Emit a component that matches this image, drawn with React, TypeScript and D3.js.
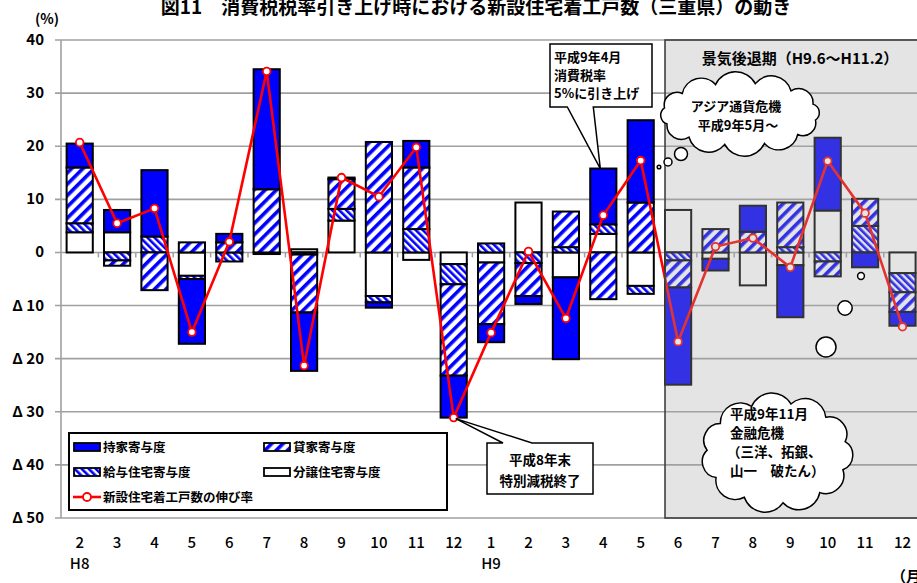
import React from "react";
import * as d3 from "d3";

// months (H8.2 - H9.12)
const months = ["2", "3", "4", "5", "6", "7", "8", "9", "10", "11", "12", "1", "2", "3", "4", "5", "6", "7", "8", "9", "10", "11", "12"];
const eraLabels = [
  { index: 0, label: "H8" },
  { index: 11, label: "H9" },
];

// contributions (%)
const ownedHouse = [4.5, 4.2, 12.5, -12.2, 1.6, 22.6, -11.0, 0.3, -1.0, 5.0, -7.9, -3.4, -1.5, -15.4, 10.5, 15.5, -18.3, -2.2, 4.9, -9.8, 13.7, -2.8, -2.6];
const rentalHouse = [10.5, -1.0, -7.1, 1.9, 1.9, 11.9, -10.9, 5.6, 20.8, 11.6, -17.2, -11.6, -6.2, 6.7, -8.8, 9.4, -5.1, 4.4, 3.9, 8.4, -2.8, 5.1, -3.7];
const issuedHouse = [1.7, -1.5, 3.0, -0.6, -1.7, 0, -0.4, 2.2, -1.2, 4.4, -3.8, 1.7, -2.0, 1.0, 1.8, -1.5, -1.5, 0, 0, 1.0, -1.7, 5.0, -3.6];
const forSaleHouse = [3.8, 3.8, 0, -4.4, 0, -0.3, 0.6, 6.0, -8.2, -1.4, -2.2, -1.9, 9.4, -4.7, 3.5, -6.3, 8.0, -1.2, -6.2, -2.4, 7.9, 0, -3.9];
// 新設住宅着工戸数の伸び率
const startsGrowth = [20.7, 5.5, 8.3, -15.0, 2.0, 34.1, -21.3, 14.1, 10.5, 19.8, -31.1, -15.1, 0.2, -12.4, 7.0, 17.3, -16.8, 1.1, 2.7, -2.8, 17.2, 7.4, -14.0];

const yTicks = [40, 30, 20, 10, 0, -10, -20, -30, -40, -50];

const seriesKeys = ["forSale", "issued", "rental", "owned"];
const seriesFill = {
  owned: "#0000ff",
  rental: "url(#rentPat)",
  issued: "url(#issuePat)",
  forSale: "#ffffff",
};

const W = 917;
const H = 583;
const FONT = "'Noto Sans CJK JP', sans-serif";

// recession period starts at H9.6 (index 16)
const recessionStart = 16;

function cloudPath(cx, cy, rx, ry, n) {
  const pts = d3.range(n).map((i) => {
    const a = (2 * Math.PI * i) / n - Math.PI / 2 + 0.2;
    return [cx + rx * Math.cos(a), cy + ry * Math.sin(a)];
  });
  let p = `M${pts[0][0]},${pts[0][1]}`;
  pts.forEach((pt, i) => {
    const next = pts[(i + 1) % n];
    const chord = Math.hypot(next[0] - pt[0], next[1] - pt[1]);
    const r = chord * 0.56;
    p += ` A${r},${r} 0 0 1 ${next[0]},${next[1]}`;
  });
  return p + "Z";
}

export default function App() {
  const rows = months.map((m, i) => ({
    idx: String(i),
    owned: ownedHouse[i],
    rental: rentalHouse[i],
    issued: issuedHouse[i],
    forSale: forSaleHouse[i],
  }));

  const layers = d3.stack().keys(seriesKeys).offset(d3.stackOffsetDiverging)(rows);

  const x = d3
    .scaleBand()
    .domain(months.map((m, i) => String(i)))
    .range([61, 61 + 37.4 * months.length])
    .paddingInner(0.3)
    .paddingOuter(0.15);
  const y = d3.scaleLinear().domain([-50, 40]).range([518, 40]);

  const cx = (i) => x(String(i)) + x.bandwidth() / 2;
  const step = x.step();
  const plotLeft = 61;
  const plotRight = 61 + step * months.length;

  const lineGen = d3
    .line()
    .x((d, i) => cx(i))
    .y((d) => y(d));

  const shadeX = x(String(recessionStart));

  // callout anchors
  const taxX = cx(14);
  const taxY = y(ownedHouse[14] + issuedHouse[14] + forSaleHouse[14]);
  const cutX = cx(10);
  const cutY = y(startsGrowth[10]);

  const legendItems = [
    { key: "owned", label: "持家寄与度", col: 0, row: 0 },
    { key: "rental", label: "貸家寄与度", col: 1, row: 0 },
    { key: "issued", label: "給与住宅寄与度", col: 0, row: 1 },
    { key: "forSale", label: "分譲住宅寄与度", col: 1, row: 1 },
  ];

  return (
    <svg width={W} height={H} style={{ position: "absolute", left: 0, top: 0, background: "#fff" }} fontFamily={FONT}>
      <defs>
        <pattern id="rentPat" patternUnits="userSpaceOnUse" width={8} height={8} patternTransform="rotate(45)">
          <rect width={8} height={8} fill="#fff" />
          <rect width={3.6} height={8} fill="#0000ff" />
        </pattern>
        <pattern id="issuePat" patternUnits="userSpaceOnUse" width={5} height={5} patternTransform="rotate(-45)">
          <rect width={5} height={5} fill="#fff" />
          <rect width={2.6} height={5} fill="#0000ff" />
        </pattern>
      </defs>

      {/* title */}
      <text x={476} y={14} textAnchor="middle" fontSize={19} fontWeight="bold">
        図11　消費税税率引き上げ時における新設住宅着工戸数（三重県）の動き
      </text>
      <text x={47} y={24} textAnchor="middle" fontSize={14} fontWeight="bold">
        (%)
      </text>

      {/* grid */}
      {yTicks.map((t) => (
        <g key={t}>
          <line x1={plotLeft - 6} x2={plotRight} y1={y(t)} y2={y(t)} stroke="#a0a0a0" strokeWidth={1.6} />
          <text x={44} y={y(t) + 5} textAnchor="end" fontSize={15} fontWeight="bold">
            {t < 0 ? `Δ ${-t}` : t}
          </text>
        </g>
      ))}
      <line x1={plotLeft} x2={plotLeft} y1={y(40)} y2={y(-50)} stroke="#a0a0a0" strokeWidth={1.6} />
      {d3.range(1, months.length).map((i) => (
        <line key={i} x1={plotLeft + step * i} x2={plotLeft + step * i} y1={y(0)} y2={y(0) + 5} stroke="#a0a0a0" strokeWidth={1.5} />
      ))}

      {/* stacked bars */}
      {layers.map((layer) => (
        <g key={layer.key} fill={seriesFill[layer.key]} stroke="#000" strokeWidth={2}>
          {layer
            .filter((d) => Math.abs(d[1] - d[0]) > 0)
            .map((d) => (
              <rect
                key={d.data.idx}
                x={x(d.data.idx)}
                width={x.bandwidth()}
                y={y(Math.max(d[0], d[1]))}
                height={Math.abs(y(d[0]) - y(d[1]))}
              />
            ))}
        </g>
      ))}

      {/* growth line */}
      <path d={lineGen(startsGrowth)} fill="none" stroke="#ff0000" strokeWidth={2.6} />
      {startsGrowth.map((v, i) => (
        <circle key={i} cx={cx(i)} cy={y(v)} r={3.8} fill="#fff" stroke="#ff0000" strokeWidth={1.8} />
      ))}

      {/* recession period shade */}
      <rect x={shadeX} y={y(40)} width={plotRight - shadeX + 10} height={y(-50) - y(40)} fill="#a7a7a7" fillOpacity={0.3} stroke="#404040" strokeWidth={1.6} />
      <text x={800} y={64} textAnchor="middle" fontSize={15} fontWeight="bold">
        景気後退期（H9.6～H11.2）
      </text>

      {/* callout: tax increase */}
      <path
        d={`M550,44 L652,44 L652,107 L${taxX - 10},107 L${taxX - 3},${taxY} L${taxX - 36},107 L550,107 Z`}
        fill="#fff"
        stroke="#000"
        strokeWidth={1.5}
      />
      <g fontSize={13} fontWeight="bold">
        <text x={554} y={62}>平成9年4月</text>
        <text x={554} y={80}>消費税率</text>
        <text x={554} y={98}>5%に引き上げ</text>
      </g>

      {/* callout: special tax cut ended */}
      <path
        d={`M487,443 L503,443 L${cutX + 2},${cutY + 1} L532,443 L593,443 L593,494 L487,494 Z`}
        fill="#fff"
        stroke="#000"
        strokeWidth={1.5}
      />
      <g fontSize={13.5} fontWeight="bold" textAnchor="middle">
        <text x={540} y={465}>平成8年末</text>
        <text x={540} y={486}>特別減税終了</text>
      </g>

      {/* cloud: asia currency crisis */}
      <g fill="#fff" stroke="#000" strokeWidth={1.5}>
        <path d={cloudPath(740, 114, 77, 31, 12)} />
        <circle cx={659} cy={167} r={1.8} />
        <circle cx={668} cy={162} r={4} />
        <circle cx={681} cy={154} r={6.5} />
      </g>
      <g fontSize={13} fontWeight="bold" textAnchor="middle">
        <text x={736} y={111}>アジア通貨危機</text>
        <text x={738} y={130}>平成9年5月～</text>
      </g>

      {/* cloud: financial crisis */}
      <g fill="#fff" stroke="#000" strokeWidth={1.5}>
        <path d={cloudPath(777, 453, 70, 50, 11)} />
        <circle cx={826} cy={347} r={10} />
        <circle cx={845} cy={308} r={7.2} />
        <circle cx={861} cy={276} r={3.4} />
      </g>
      <g fontSize={13.5} fontWeight="bold">
        <text x={730} y={419}>平成9年11月</text>
        <text x={730} y={438}>金融危機</text>
        <text x={727} y={457}>（三洋、拓銀、</text>
        <text x={730} y={476}>山一　破たん）</text>
      </g>

      {/* legend */}
      <rect x={69} y={433} width={378} height={77} fill="#fff" stroke="#000" strokeWidth={2} />
      {legendItems.map((it) => {
        const lx = it.col === 0 ? 74 : 264;
        const ly = 447 + it.row * 25;
        return (
          <g key={it.key}>
            <rect x={lx} y={ly - 4} width={26} height={8} fill={seriesFill[it.key]} stroke="#000" strokeWidth={1.8} />
            <text x={lx + 29} y={ly + 5} fontSize={12.5} fontWeight="bold">
              {it.label}
            </text>
          </g>
        );
      })}
      <line x1={73} x2={101} y1={497} y2={497} stroke="#ff0000" strokeWidth={2.6} />
      <circle cx={87} cy={497} r={4} fill="#fff" stroke="#ff0000" strokeWidth={1.8} />
      <text x={103} y={502} fontSize={12.5} fontWeight="bold">
        新設住宅着工戸数の伸び率
      </text>

      {/* x axis labels */}
      {months.map((m, i) => (
        <text key={i} x={cx(i)} y={548} textAnchor="middle" fontSize={15} fontWeight={500}>
          {m}
        </text>
      ))}
      {eraLabels.map((e) => (
        <text key={e.label} x={cx(e.index)} y={569} textAnchor="middle" fontSize={15} fontWeight={500}>
          {e.label}
        </text>
      ))}
      <text x={891} y={582} fontSize={15} fontWeight="bold">
        （月）
      </text>
    </svg>
  );
}
